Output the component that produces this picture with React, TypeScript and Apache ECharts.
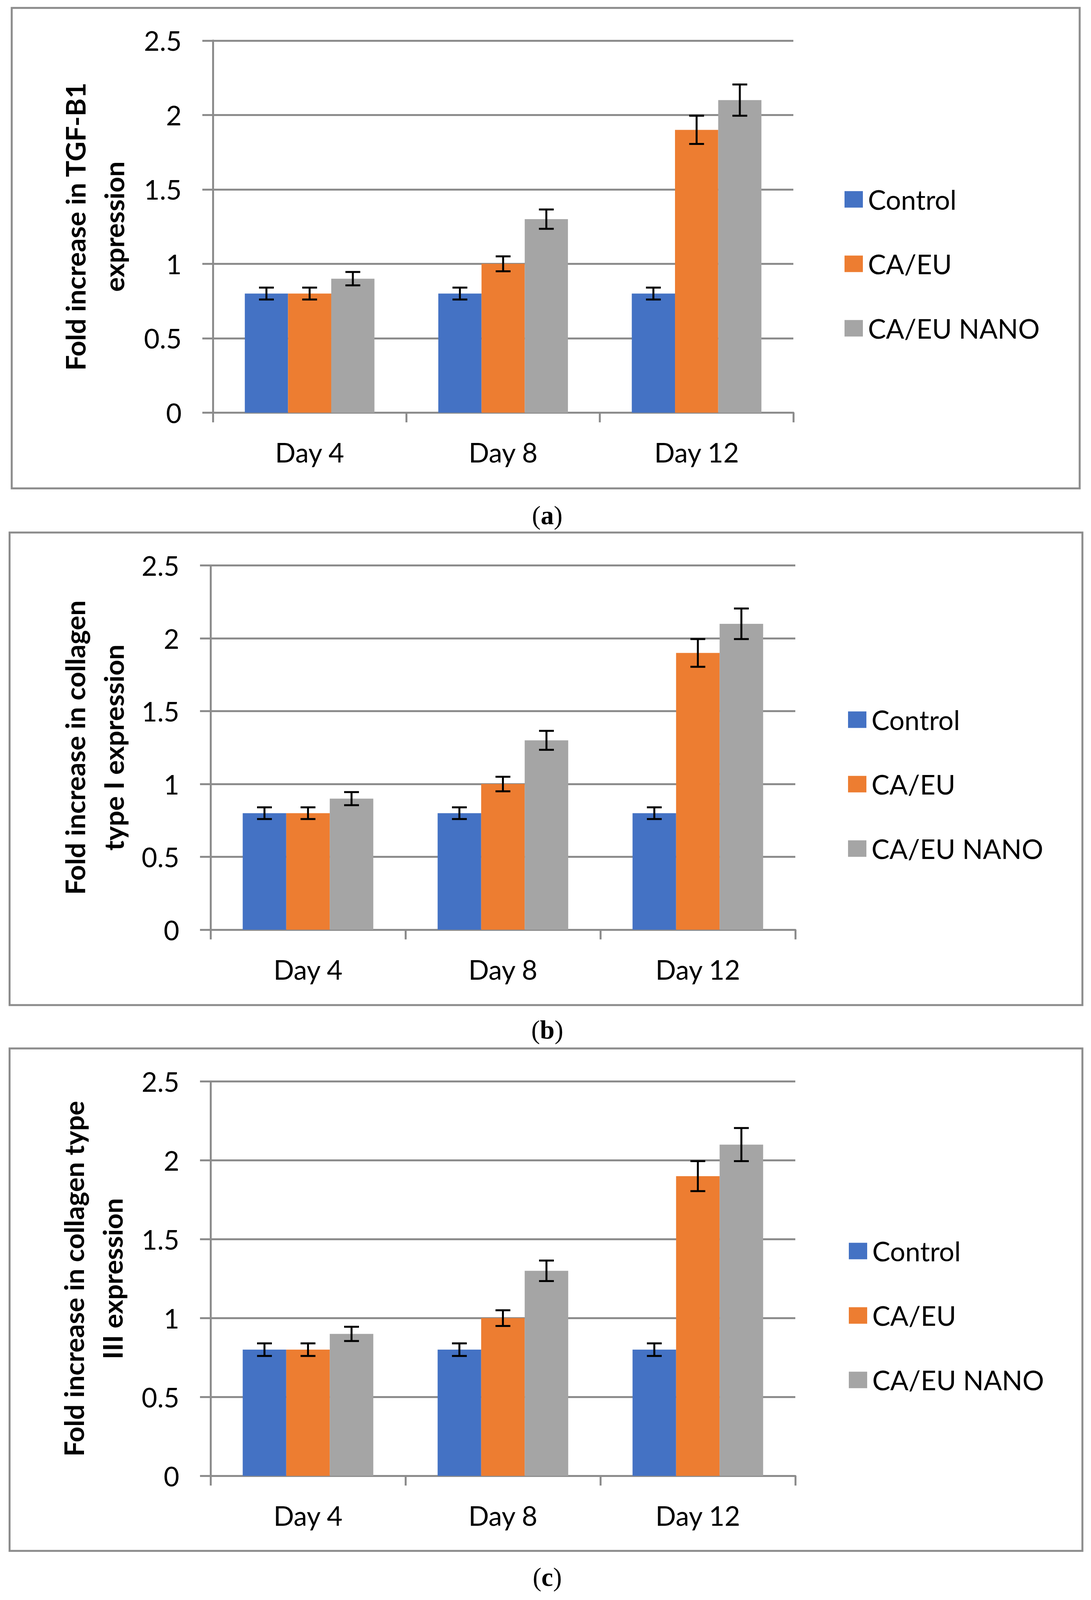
import React, { useEffect, useRef } from 'react';
import * as echarts from 'echarts';

// ---------- data ----------
const categories = ['Day 4', 'Day 8', 'Day 12'];
const seriesNames = ['Control', 'CA/EU', 'CA/EU NANO'];
const controlValues = [0.8, 0.8, 0.8];
const caeuValues = [0.8, 1.0, 1.9];
const nanoValues = [0.9, 1.3, 2.1];
const controlErrors = [0.04, 0.04, 0.04];
const caeuErrors = [0.04, 0.05, 0.095];
const nanoErrors = [0.045, 0.065, 0.105];
const yMin = 0;
const yMax = 2.5;
const yInterval = 0.5;
const panelTitles = [
  'Fold increase in TGF-B1\nexpression',
  'Fold increase in collagen\ntype I expression',
  'Fold increase in collagen type\nIII expression',
];
const panelLetters = ['a', 'b', 'c'];

// ---------- styling / layout (reference pixel frame 2793 x 4459) ----------
const COLORS = ['#4472C4', '#ED7D31', '#A5A5A5'];
const GRAY = '#8C8C8C';
const FONT = 'Lato';
const REF_W = 2793;
const REF_H = 4459;
const BAR_CAT_GAP = 0.33;

const layouts = [
  { grid: { left: 545, top: 113, width: 1486, height: 1037 }, nameGap: 205, legend: { left: 2162, top: 518 }, box: { x: 30, y: 22, w: 2734, h: 1339 }, labelY: 1436 },
  { grid: { left: 539, top: 1576, width: 1497, height: 1015 }, nameGap: 200, legend: { left: 2171, top: 1968 }, box: { x: 24.5, y: 1484, w: 2746.5, h: 1317 }, labelY: 2870 },
  { grid: { left: 539, top: 3014, width: 1497, height: 1099 }, nameGap: 203, legend: { left: 2173, top: 3449 }, box: { x: 24.5, y: 2922, w: 2746.5, h: 1400 }, labelY: 4395 },
];

const valueSets = [controlValues, caeuValues, nanoValues];
const errorSets = [controlErrors, caeuErrors, nanoErrors];

function buildOption(k: number) {
  // k: vertical factor so that the whole figure fits the visible page height
  const fk = (1 + k) / 2;
  const grid: any[] = [];
  const xAxis: any[] = [];
  const yAxis: any[] = [];
  const legend: any[] = [];
  const series: any[] = [];
  const graphic: any[] = [];

  layouts.forEach((L, p) => {
    grid.push({
      left: L.grid.left,
      width: L.grid.width,
      top: L.grid.top * k,
      height: L.grid.height * k,
      containLabel: false,
    });
    xAxis.push({
      type: 'category',
      gridIndex: p,
      data: categories,
      axisLine: { show: true, lineStyle: { color: GRAY, width: 5 } },
      axisTick: { show: true, length: 27 * k, lineStyle: { color: GRAY, width: 5 } },
      axisLabel: { fontFamily: FONT, fontSize: 72 * fk, color: '#000', margin: 73 * k, lineHeight: 72 * fk },
      splitLine: { show: false },
    });
    yAxis.push({
      type: 'value',
      gridIndex: p,
      min: yMin,
      max: yMax,
      interval: yInterval,
      name: panelTitles[p],
      nameLocation: 'middle',
      nameRotate: 90,
      nameGap: L.nameGap,
      nameTextStyle: { fontFamily: FONT, fontWeight: 'bold', fontSize: 76 * k, lineHeight: 99, color: '#000' },
      axisLine: { show: true, lineStyle: { color: GRAY, width: 5 } },
      axisTick: { show: true, length: 27, lineStyle: { color: GRAY, width: 5 } },
      axisLabel: { fontFamily: FONT, fontSize: 72 * fk, color: '#000', margin: 80, formatter: (v: number) => String(v) },
      splitLine: { show: true, lineStyle: { color: GRAY, width: 5 } },
    });
    legend.push({
      orient: 'vertical',
      left: L.legend.left,
      top: L.legend.top * k,
      padding: 0,
      itemWidth: 47,
      itemHeight: 46 * k,
      itemGap: 104.5 * k,
      icon: 'rect',
      data: seriesNames,
      selectedMode: false,
      textStyle: { fontFamily: FONT, fontSize: 72 * fk, color: '#000', lineHeight: 46 * k, padding: [0, 0, 0, 8] },
    });

    seriesNames.forEach((name, s) => {
      series.push({
        type: 'bar',
        name,
        xAxisIndex: p,
        yAxisIndex: p,
        data: valueSets[s],
        barGap: '0%',
        barCategoryGap: `${BAR_CAT_GAP * 100}%`,
        itemStyle: { color: COLORS[s] },
        z: 2,
      });
    });

    seriesNames.forEach((name, s) => {
      const offset = s - 1;
      series.push({
        type: 'custom',
        name: `err-${p}-${s}`,
        xAxisIndex: p,
        yAxisIndex: p,
        z: 5,
        encode: { x: 0, y: [1, 2] },
        data: categories.map((_, i) => [i, valueSets[s][i] - errorSets[s][i], valueSets[s][i] + errorSets[s][i]]),
        renderItem: (params: any, api: any) => {
          const cat = api.value(0);
          const lo = api.value(1);
          const hi = api.value(2);
          const band = api.size([1, 0])[0];
          const barW = (band * (1 - BAR_CAT_GAP)) / 3;
          const cx = api.coord([cat, 0])[0] + offset * barW;
          const yLo = api.coord([cat, lo])[1];
          const yHi = api.coord([cat, hi])[1];
          const cap = 19;
          const st = { stroke: '#000', lineWidth: 5 };
          return {
            type: 'group',
            children: [
              { type: 'line', shape: { x1: cx, y1: yLo, x2: cx, y2: yHi }, style: st },
              { type: 'line', shape: { x1: cx - cap, y1: yHi, x2: cx + cap, y2: yHi }, style: st },
              { type: 'line', shape: { x1: cx - cap, y1: yLo, x2: cx + cap, y2: yLo }, style: st },
            ],
          };
        },
      });
    });

    graphic.push({
      type: 'rect',
      shape: { x: L.box.x, y: L.box.y * k, width: L.box.w, height: L.box.h * k },
      style: { fill: 'none', stroke: GRAY, lineWidth: 5 },
      silent: true,
      z: 0,
    });
    graphic.push({
      type: 'text',
      x: 1401,
      y: L.labelY * k,
      style: {
        text: `{p|(}{b|${panelLetters[p]}}{p|)}`,
        align: 'center',
        verticalAlign: 'middle',
        rich: {
          p: { fontFamily: 'Liberation Serif', fontSize: 70 * fk, color: '#000' },
          b: { fontFamily: 'Liberation Serif', fontSize: 70 * fk, fontWeight: 'bold', color: '#000' },
        },
      },
    });
  });

  return {
    animation: false,
    backgroundColor: '#fff',
    grid,
    xAxis,
    yAxis,
    legend,
    series,
    graphic,
  };
}

function pageHeight() {
  if (typeof window === 'undefined' || !window.innerHeight) return REF_H;
  return Math.min(REF_H, window.innerHeight);
}

export default function App() {
  const ref = useRef<HTMLDivElement>(null);
  const H = pageHeight();
  useEffect(() => {
    if (!ref.current) return;
    const h = pageHeight();
    const chart = echarts.init(ref.current, undefined, { renderer: 'svg', width: REF_W, height: h });
    chart.setOption(buildOption(h / REF_H) as any);
    return () => chart.dispose();
  }, []);
  return <div ref={ref} style={{ position: 'absolute', left: 0, top: 0, width: REF_W, height: H, background: '#fff' }} />;
}
